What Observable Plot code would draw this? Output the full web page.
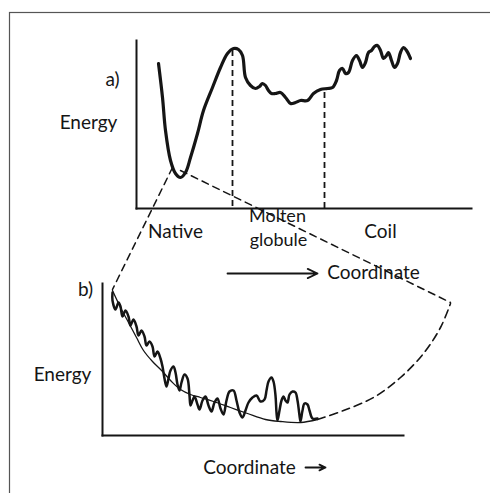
<!DOCTYPE html>
<html>
<head>
<meta charset="utf-8">
<script src="https://cdn.jsdelivr.net/npm/d3@7"></script>
<script src="https://cdn.jsdelivr.net/npm/@observablehq/plot@0.6"></script>
<style>
  html, body { margin: 0; padding: 0; background: #fff; }
  #chart svg { display: block; }
</style>
</head>
<body>
<div id="chart"></div>
<script>
// ---- Panel a: energy profile (figure units) ----
const curveA_x = [158,162,165,170,175,180,185,190,197,203,212,220,227,233,238,242,245,250,255,259,262,265,268,271,275,280,285,290,295,300,307,313,320,327,332,336,339,342,345,348,352,356,359,362,365,368,371,374,377,380,383,386,388,391,394,397,400,403,406,410];
const curveA_y = [63,97,130,160,173,177,172,157,133,110,87,67,53,48,49,55,77,85,88,86,83,85,90,93,93,92,97,103,102,100,100,93,89,88,87,80,70,68,73,72,60,55,60,67,62,52,50,46,45,50,58,55,52,60,67,63,52,47,50,58];

// dashed boundaries in panel a
const boundX = [232, 324];
const boundTop = [50, 92];

// ---- Panel b: rugged funnel ----
const roughB_x = [112,112,115,118,120,122,125,128,130,133,136,138,141,144,146,149,152,154,157,160,162,164,166,168,170,173,175,177,179,181,184,187,189,190,192,194,197,199,202,205,208,211,214,217,220,223,226,229,233,236,239,242,245,248,252,256,260,264,266,268,271,273,275,276,277,279,281,283,285,287,289,292,295,297,299,300,302,304,307,309,312,317];
const roughB_y = [292,300,309,302,306,316,310,316,325,319,326,335,330,336,345,341,346,356,351,358,366,378,386,378,370,366,372,384,390,382,374,378,395,405,400,396,404,409,400,396,405,411,402,398,408,414,400,391,390,400,412,417,410,402,397,395,401,399,390,381,377,381,395,412,420,410,400,396,400,402,394,391,392,400,415,421,410,403,404,410,418,418];

// smooth envelope (solid part) and its dashed continuation
const envSolid_x = [112,120,128,136,143,152,162,171,180,190,200,213,230,247,265,280,300,317];
const envSolid_y = [290,307,322,337,350,361,371,381,389,394,397,401,407,413,419,421,422,419];
const envDash_x = [317,343,373,400,423,440,450];
const envDash_y = [419,410,397,377,353,327,303];

// connectors from native minimum to panel b
const connLeft_x = [172,112];
const connLeft_y = [167,289];
const connRight_x = [180,450];
const connRight_y = [170,302];

// axes
const axisA = {x0: 136, y0: 208, yTop: 40, xEnd: 471};
const axisB = {x0: 102, y0: 435, yTop: 283, xEnd: 403};

// text labels
const labelText = ["a)", "Energy", "Native", "Molten", "globule", "Coil", "Coordinate", "b)", "Energy", "Coordinate"];
const labelX    = [112, 88, 175, 277, 278, 380, 373, 85, 62, 249];
const labelY    = [79, 122, 231, 216, 240, 231, 272, 289, 374, 467];
const labelSize = [19, 19, 19, 18, 18, 19, 19, 19, 19, 19];

// arrows
const arrows = [
  {x1: 227, y1: 273, x2: 317, y2: 273},
  {x1: 305, y1: 467, x2: 325, y2: 467}
];

const zip = (xs, ys) => xs.map((x, i) => ({x, y: ys[i]}));
const labels = labelText.map((t, i) => ({t, x: labelX[i], y: labelY[i], s: labelSize[i]}));
const bounds = boundX.map((x, i) => ({x, y1: boundTop[i], y2: axisA.y0}));
const axisLines = [
  {x1: axisA.x0, y1: axisA.yTop, x2: axisA.x0, y2: axisA.y0},
  {x1: axisA.x0, y1: axisA.y0, x2: axisA.xEnd, y2: axisA.y0},
  {x1: axisB.x0, y1: axisB.yTop, x2: axisB.x0, y2: axisB.y0},
  {x1: axisB.x0, y1: axisB.y0, x2: axisB.xEnd, y2: axisB.y0}
];

const ink = "#151515";

const chart = Plot.plot({
  width: 490,
  height: 493,
  margin: 0,
  x: {domain: [0, 490], axis: null},
  y: {domain: [493, 0], axis: null},
  style: {fontFamily: "Lato, 'DejaVu Sans', sans-serif", background: "#fff"},
  marks: [
    Plot.frame({insetLeft: 9, insetTop: 12, insetRight: -6, insetBottom: -6, stroke: "#555", strokeWidth: 1.2}),
    Plot.link(axisLines, {x1: "x1", y1: "y1", x2: "x2", y2: "y2", stroke: ink, strokeWidth: 2, strokeLinecap: "square"}),
    Plot.ruleX(bounds, {x: "x", y1: "y1", y2: "y2", stroke: ink, strokeWidth: 1.8, strokeDasharray: "6,4"}),
    Plot.line(zip(connLeft_x, connLeft_y), {x: "x", y: "y", stroke: ink, strokeWidth: 1.5, strokeDasharray: "7,5"}),
    Plot.line(zip(connRight_x, connRight_y), {x: "x", y: "y", stroke: ink, strokeWidth: 1.5, strokeDasharray: "7,5"}),
    Plot.line(zip(envSolid_x, envSolid_y), {x: "x", y: "y", curve: "catmull-rom", stroke: ink, strokeWidth: 1.3}),
    Plot.line(zip(envDash_x, envDash_y), {x: "x", y: "y", curve: "catmull-rom", stroke: ink, strokeWidth: 1.6, strokeDasharray: "8,5"}),
    Plot.line(zip(curveA_x, curveA_y), {x: "x", y: "y", curve: "catmull-rom", stroke: ink, strokeWidth: 3.2, strokeLinejoin: "round", strokeLinecap: "round"}),
    Plot.line(zip(roughB_x, roughB_y), {x: "x", y: "y", curve: "catmull-rom", stroke: ink, strokeWidth: 2.5, strokeLinejoin: "round", strokeLinecap: "round"}),
    Plot.arrow(arrows, {x1: "x1", y1: "y1", x2: "x2", y2: "y2", stroke: ink, strokeWidth: 1.8, headLength: 9, headAngle: 50, bend: 0}),
    Plot.text(labels, {x: "x", y: "y", text: "t", fontSize: "s", fill: ink, textAnchor: "middle", lineAnchor: "middle"})
  ]
});

document.getElementById("chart").appendChild(chart);
</script>
</body>
</html>
